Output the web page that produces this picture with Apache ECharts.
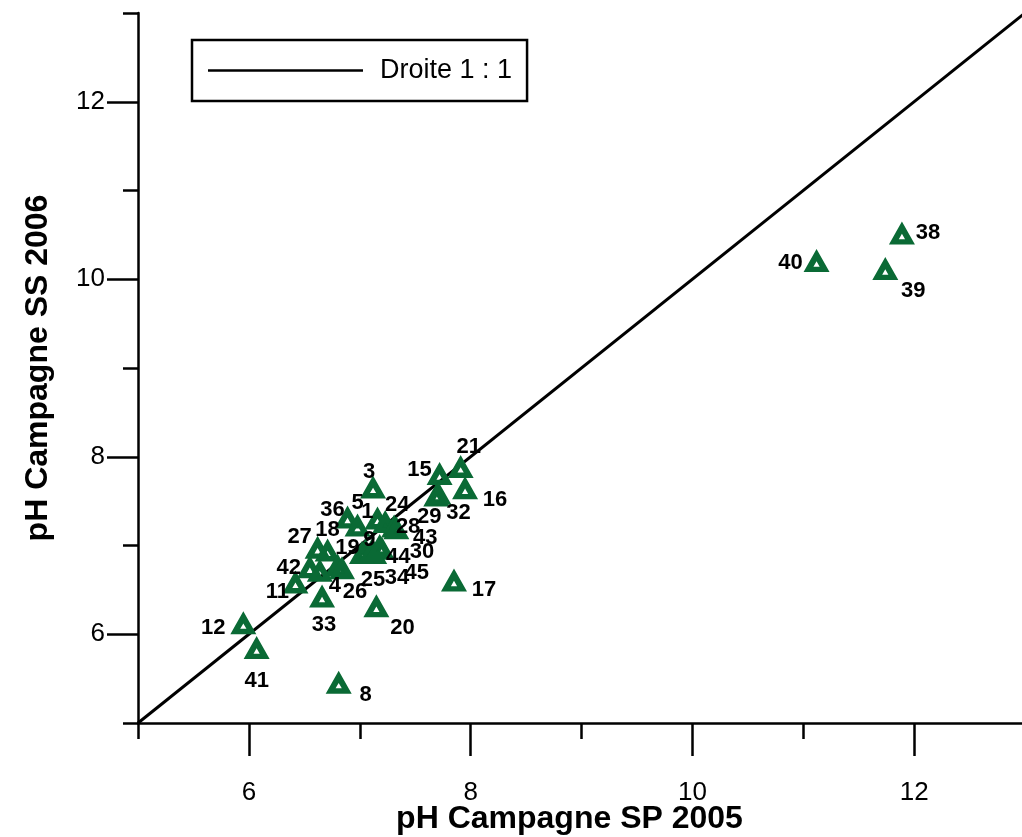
<!DOCTYPE html>
<html>
<head>
<meta charset="utf-8">
<script src="https://cdn.jsdelivr.net/npm/echarts@6/dist/echarts.min.js"></script>
<style>
  html, body { margin: 0; padding: 0; background: #fff; }
  #chart { width: 1022px; height: 837px; }
</style>
</head>
<body>
<div id="chart"></div>
<script>
// Sampling sites: pH measured in the SP 2005 campaign (x) and the SS 2006 campaign (y)
const siteIds = ['38', '40', '39', '21', '15', '16', '29', '32', '17', '3', '20', '33', '8', '12', '41',
  '11', '42', '27', '18', '19', '4', '26', '36', '5', '1', '24', '28', '9', '44', '43', '30', '25', '34', '45'];
const phSP2005 = [11.89, 11.12, 11.74, 7.91, 7.72, 7.95, 7.69, 7.71, 7.85, 7.12, 7.15, 6.66, 6.81, 5.95, 6.07,
  6.42, 6.55, 6.62, 6.71, 6.80, 6.64, 6.84, 6.89, 6.98, 7.16, 7.23, 7.31, 7.05, 7.13, 7.33, 7.20, 7.02, 7.11, 7.18];
const phSS2006 = [10.52, 10.21, 10.12, 7.89, 7.81, 7.65, 7.57, 7.59, 6.61, 7.66, 6.32, 6.43, 5.46, 6.13, 5.85,
  6.59, 6.76, 6.98, 6.95, 6.78, 6.72, 6.75, 7.32, 7.23, 7.31, 7.27, 7.22, 6.95, 6.92, 7.20, 6.97, 6.92, 6.95, 7.00];

// Where each site number sits relative to its marker (pixels)
const labelOffsets = [[26, 0], [-26, 2], [28, 22], [8, -20], [-20, -4], [30, 12], [-7, 22], [20, 20], [30, 10],
  [-4, -15], [26, 22], [2, 29], [27, 13], [-30, 5], [0, 33], [-18, 10], [-21, 1], [-18, -10], [0, -20],
  [10, -17], [15, 16], [13, 24], [-15, -7], [0, -22], [-10, -6], [12, -17], [14, 1], [4, -10], [24, 4],
  [29, 10], [40, 4], [11, 27], [25, 28], [37, 27]];

// 1:1 reference line and axis ticks
const oneToOneLine = [[5, 5], [13, 13]];
const axisMin = 5, axisMax = 13;
const majorTicks = [6, 8, 10, 12];
const minorTicks = [5, 7, 9, 11, 13];

const FONT = 'Liberation Sans, Arial, Helvetica, sans-serif';
const GREEN = '#0a6a35';
// hollow triangle: outer outline with a small reversed inner triangle cut out
const TRIANGLE = 'path://M13,0 L26,23 L0,23 Z M13,12.2 L9.9,17.6 L16.1,17.6 Z';

const points = siteIds.map((id, i) => ({
  name: id,
  value: [phSP2005[i], phSS2006[i]]
}));

function makeXAxis(ticks, len, withLabels, extra) {
  return Object.assign({
    type: 'value', min: axisMin, max: axisMax, interval: 1,
    position: 'bottom',
    splitLine: { show: false },
    axisLine: { show: withLabels, onZero: false, lineStyle: { color: '#000', width: 2.5 } },
    axisTick: { show: true, inside: false, length: len, customValues: ticks, lineStyle: { color: '#000', width: 2.5 } },
    axisLabel: { show: withLabels, customValues: majorTicks, margin: 57, color: '#000', fontSize: 26, fontFamily: FONT }
  }, extra || {});
}
function makeYAxis(ticks, len, withLabels, extra) {
  return Object.assign({
    type: 'value', min: axisMin, max: axisMax, interval: 1,
    position: 'left',
    splitLine: { show: false },
    axisLine: { show: withLabels, onZero: false, lineStyle: { color: '#000', width: 2.5 } },
    axisTick: { show: true, inside: false, length: len, customValues: ticks, lineStyle: { color: '#000', width: 2.5 } },
    axisLabel: { show: withLabels, customValues: majorTicks, margin: 33, color: '#000', fontSize: 26, fontFamily: FONT }
  }, extra || {});
}

const chart = echarts.init(document.getElementById('chart'), null, { renderer: 'canvas', width: 1022, height: 837 });
chart.setOption({
  animation: false,
  backgroundColor: '#fff',
  grid: { left: 138, top: 13, width: 887, height: 710, containLabel: false, outerBoundsMode: 'none' },
  legend: {
    data: ['Droite 1 : 1'],
    left: 192, top: 40,
    orient: 'horizontal',
    icon: 'rect',
    padding: [17, 15, 17, 16],
    itemWidth: 155, itemHeight: 2.5,
    borderColor: '#000', borderWidth: 2.5,
    backgroundColor: '#fff',
    textStyle: { color: '#000', fontSize: 27, fontFamily: FONT, padding: [0, 0, 0, 12] }
  },
  xAxis: [
    makeXAxis(majorTicks, 33, true, {
      name: 'pH Campagne SP 2005', nameLocation: 'middle', nameGap: 80, nameMoveOverlap: false,
      nameTextStyle: { color: '#000', fontSize: 32, fontWeight: 'bold', fontFamily: FONT, padding: [0, 24, 0, 0] }
    }),
    makeXAxis(minorTicks, 16, false)
  ],
  yAxis: [
    makeYAxis(majorTicks, 31, true, {
      name: 'pH Campagne SS 2006', nameLocation: 'middle', nameGap: 84, nameRotate: 90, nameMoveOverlap: false,
      nameTextStyle: { color: '#000', fontSize: 32, fontWeight: 'bold', fontFamily: FONT }
    }),
    makeYAxis(minorTicks, 15, false)
  ],
  series: [
    {
      name: 'Droite 1 : 1',
      type: 'line',
      data: oneToOneLine,
      symbol: 'none',
      clip: true,
      lineStyle: { color: '#000', width: 3 },
      itemStyle: { color: '#000' },
      z: 3
    },
    {
      name: 'Sites',
      type: 'scatter',
      data: points,
      symbol: TRIANGLE,
      symbolSize: [26, 23],
      itemStyle: { color: GREEN, opacity: 1 },
      label: {
        show: true,
        position: 'inside',
        formatter: '{b}',
        color: '#000',
        fontSize: 22,
        fontWeight: 'bold',
        fontFamily: FONT
      },
      labelLayout: (p) => ({
        dx: labelOffsets[p.dataIndex][0],
        dy: labelOffsets[p.dataIndex][1],
        hideOverlap: false
      }),
      emphasis: { disabled: true },
      z: 4
    }
  ]
});
</script>
</body>
</html>
